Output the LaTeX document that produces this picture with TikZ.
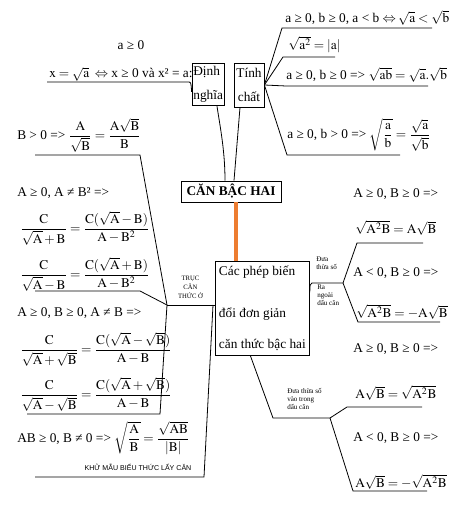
\documentclass[tikz,border=0pt]{standalone}
\usepackage{amsmath}
\usepackage{mathptmx}
\usepackage{fontspec}
\setmainfont{Liberation Serif}
\newfontfamily\sansf{Liberation Sans}
\usetikzlibrary{positioning}
\definecolor{cam}{RGB}{237,125,49}
\newcommand{\m}[1]{$\mathrm{#1}$}

\tikzset{
  khung/.style={draw, line width=0.6pt, inner sep=0.5pt},
  ct/.style={anchor=west, inner sep=0pt},
  nhanh/.style={line width=0.6pt},
  nho/.style={font=\fontsize{5.3}{6}\selectfont, align=left, inner sep=0pt, anchor=north west},
}

\begin{document}
\begin{tikzpicture}[x=0.75pt, y=-0.75pt]
  \useasboundingbox (0,0) rectangle (452,506);

  % các khung
  \node[khung, font=\bfseries, minimum width=75pt, minimum height=15.75pt] (goc) at (231,191.5) {CĂN BẬC HAI};
  \node[khung, minimum width=24pt, minimum height=32pt, text width=22pt, inner xsep=1pt, align=left] (dinhnghia) at (208,84.5) {Định\\[6pt]nghĩa};
  \node[khung, minimum width=22.5pt, minimum height=33pt, text width=21.5pt, align=center] (tinhchat) at (249,85) {Tính\\[6pt]chất};
  \node[khung, anchor=north west, minimum width=70.5pt, minimum height=70.5pt, align=left] (biendoi) at (215,261) {Các phép biến\\[19.5pt]đổi đơn giản\\[11pt]căn thức bậc hai};

  % nối với khung gốc
  \draw[line width=3pt, cam] ([xshift=3.75pt]goc.south) -- ([xshift=3.75pt]goc.south |- biendoi.north);
  \draw[nhanh] ([xshift=6.75pt]dinhnghia.south) .. controls +(3,20) and +(0,-30) .. ([xshift=-4.5pt]goc.north);
  \draw[nhanh] ([xshift=-6.75pt]tinhchat.south) -- ([xshift=2.25pt]goc.north);

  % định nghĩa
  \node (dk) at (131,45) {a ≥ 0};
  \node[ct] (dn1) at (49,74) {\m{x=\sqrt{a}}\ \,$\Leftrightarrow$ x ≥ 0 và x² = a:};
  \coordinate (d1) at (47,82);
  \coordinate (d2) at (188,82);
  \draw[nhanh] (d1) -- (d2) .. controls (191,82) .. ([yshift=-5.5pt]dinhnghia.west);

  % tính chất
  \node[ct] (tc1) at (285,18) {a ≥ 0, b ≥ 0, a < b $\Leftrightarrow$\,\m{\sqrt{a}<\sqrt{b}}};
  \node[ct] (tc2) at (288,45) {\m{\sqrt{a^2}=|a|}};
  \node[ct] (tc3) at (286,75) {a ≥ 0, b ≥ 0 => \m{\sqrt{ab}=\sqrt{a}.\sqrt{b}}};
  \node[ct] (tc4) at (287,135) {a ≥ 0, b > 0 => \m{\sqrt{\dfrac{a}{b}}=\dfrac{\sqrt{a}}{\sqrt{b}}}};
  \coordinate (t1) at (282,28);  \coordinate (t1e) at (432,28);
  \coordinate (t2) at (283,57);  \coordinate (t2e) at (335,57);
  \coordinate (t3) at (286,86);  \coordinate (t3e) at (428,86);
  \coordinate (t4) at (287,155); \coordinate (t4e) at (400,155);
  \draw[nhanh] (tinhchat.east) -- (t1) -- (t1e);
  \draw[nhanh] (tinhchat.east) -- (t2) -- (t2e);
  \draw[nhanh] (tinhchat.east) -- (t3) -- (t3e);
  \draw[nhanh] (tinhchat.east) -- (t4) -- (t4e);

  % trục căn thức ở mẫu
  \node[ct] (l1) at (17,135) {B > 0 => \m{\dfrac{A}{\sqrt{B}}=\dfrac{A\sqrt{B}}{B}}};
  \node[ct] (l2) at (17,193) {A ≥ 0, A ≠ B² =>};
  \node[ct] (l3) at (20,228) {\m{\dfrac{C}{\sqrt{A}+B}=\dfrac{C(\sqrt{A}-B)}{A-B^2}}};
  \node[ct] (l4) at (20,274) {\m{\dfrac{C}{\sqrt{A}-B}=\dfrac{C(\sqrt{A}+B)}{A-B^2}}};
  \node[ct] (l5) at (17,313) {A ≥ 0, B ≥ 0, A ≠ B =>};
  \node[ct] (l6) at (20,349) {\m{\dfrac{C}{\sqrt{A}+\sqrt{B}}=\dfrac{C(\sqrt{A}-\sqrt{B})}{A-B}}};
  \node[ct] (l7) at (20,394) {\m{\dfrac{C}{\sqrt{A}-\sqrt{B}}=\dfrac{C(\sqrt{A}+\sqrt{B})}{A-B}}};
  \node[ct] (l8) at (17,438) {AB ≥ 0, B ≠ 0 => \m{\sqrt{\dfrac{A}{B}}=\dfrac{\sqrt{AB}}{|B|}}};
  \node[font=\sansf\fontsize{5.3}{6}\selectfont, inner sep=0pt] (khumau) at (138,467) {KHỬ MẪU BIỂU THỨC LẤY CĂN};
  \node[font=\fontsize{5}{6.75}\selectfont, align=center, inner sep=0pt] (truc) at (190.5,287) {TRỤC\\CĂN\\THỨC Ở};

  \coordinate (tr) at (167,305);
  \coordinate (a1) at (140,155); \coordinate (a1e) at (35,155);
  \coordinate (a2) at (140,291); \coordinate (a2e) at (35,291);
  \coordinate (a3) at (160,414); \coordinate (a3e) at (27,414);
  \coordinate (a4s) at (213,305);
  \coordinate (a4) at (204,477); \coordinate (a4e) at (35,477);
  \draw[nhanh] (biendoi.west |- tr) -- (tr);
  \draw[nhanh] (tr) -- (a1) -- (a1e);
  \draw[nhanh] (tr) -- (a2) -- (a2e);
  \draw[nhanh] (tr) -- (a3) -- (a3e);
  \draw[nhanh] (a4s) -- (a4) -- (a4e);

  % đưa thừa số ra ngoài dấu căn
  \node[nho] (ra1) at (316,257) {Đưa\\thừa số};
  \node[nho] (ra2) at (317,285) {Ra\\ngoài\\dấu căn};
  \node[ct] (p1) at (353,194) {A ≥ 0, B ≥ 0 =>};
  \node[ct] (p2) at (355,228) {\m{\sqrt{A^2B}=A\sqrt{B}}};
  \node[ct] (p3) at (353,273) {A < 0, B ≥ 0 =>};
  \node[ct] (p4) at (356,312) {\m{\sqrt{A^2B}=-A\sqrt{B}}};
  \coordinate (r0) at (312,283);
  \coordinate (dr) at (343,283);
  \coordinate (r1) at (357,243); \coordinate (r1e) at (423,243);
  \coordinate (r2) at (358,322); \coordinate (r2e) at (440,322);
  \draw[nhanh] ([yshift=12pt]biendoi.east) .. controls (310,284) .. (r0) -- (dr);
  \draw[nhanh] (dr) -- (r1) -- (r1e);
  \draw[nhanh] (dr) -- (r2) -- (r2e);

  % đưa thừa số vào trong dấu căn
  \node[nho] (vao) at (287,388) {Đưa thừa số\\vào trong\\dấu căn};
  \node[ct] (q1) at (353,349) {A ≥ 0, B ≥ 0 =>};
  \node[ct] (q2) at (355,393) {\m{A\sqrt{B}=\sqrt{A^2B}}};
  \node[ct] (q3) at (353,438) {A < 0, B ≥ 0 =>};
  \node[ct] (q4) at (355,482) {\m{A\sqrt{B}=-\sqrt{A^2B}}};
  \coordinate (b1) at (273,418);
  \coordinate (dv) at (330,418);
  \coordinate (v1) at (347,407); \coordinate (v1e) at (422,407);
  \coordinate (v2) at (353,491); \coordinate (v2e) at (427,491);
  \draw[nhanh] ([xshift=-9pt]biendoi.south) -- (b1) -- (dv);
  \draw[nhanh] (dv) -- (v1) -- (v1e);
  \draw[nhanh] (dv) -- (v2) -- (v2e);
\end{tikzpicture}
\end{document}
